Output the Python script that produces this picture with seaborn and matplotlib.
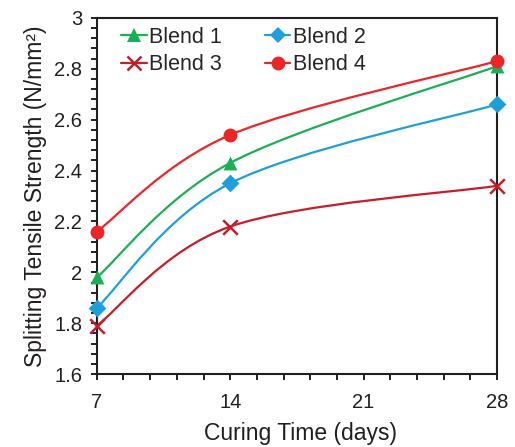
import numpy as np
import pandas as pd
import seaborn as sns
import matplotlib
matplotlib.use("Agg")
import matplotlib.pyplot as plt
from matplotlib.path import Path
from matplotlib.patches import PathPatch
from matplotlib.lines import Line2D
from matplotlib.ticker import MultipleLocator, FuncFormatter

# data
days = [7, 14, 28]
blend1 = [1.98, 2.43, 2.81]
blend2 = [1.86, 2.35, 2.66]
blend3 = [1.79, 2.18, 2.34]
blend4 = [2.16, 2.54, 2.83]

names = ["Blend 1", "Blend 2", "Blend 3", "Blend 4"]
series = [blend1, blend2, blend3, blend4]
colors = ["#1DAE55", "#1E9FD9", "#C51D2A", "#EC2528"]
markers = ["^", "D", "x", "o"]
msizes = [10, 9, 10.5, 10]

sns.set_style("ticks")
plt.rcParams['font.family'] = ['Liberation Sans', 'DejaVu Sans']
ink = "#231F20"


def smooth_path(xs, ys):
    # catmull-rom style bezier, like excel's "smoothed line"
    pts = np.column_stack([xs, ys]).astype(float)
    n = len(pts)
    verts = [pts[0]]
    codes = [Path.MOVETO]
    for i in range(n - 1):
        p0 = pts[max(i - 1, 0)]
        p1 = pts[i]
        p2 = pts[i + 1]
        p3 = pts[min(i + 2, n - 1)]
        verts += [p1 + (p2 - p0) / 6, p2 - (p3 - p1) / 6, p2]
        codes += [Path.CURVE4] * 3
    return Path(verts, codes)


fig = plt.figure(figsize=(5.15, 4.47), dpi=100)
ax = fig.add_axes([0.188, 0.163, 0.777, 0.797])

handles = []
for name, vals, c, m, ms in zip(names, series, colors, markers, msizes):
    ax.add_patch(PathPatch(smooth_path(days, vals), facecolor="none",
                           edgecolor=c, lw=1.6, zorder=2))
    df = pd.DataFrame({"day": days, "val": vals})
    if m == "x":
        sns.scatterplot(data=df, x="day", y="val", marker=m, s=ms ** 2,
                        color=c, linewidth=1.8, ax=ax, zorder=3, clip_on=False)
    else:
        sns.scatterplot(data=df, x="day", y="val", marker=m, s=ms ** 2,
                        color=c, edgecolor=c, linewidth=0, ax=ax, zorder=3,
                        clip_on=False)
    handles.append(Line2D([], [], color=c, lw=1.6, marker=m,
                          markersize=ms * (0.85 if m == "D" else 1),
                          markeredgewidth=1.8 if m == "x" else 0,
                          markerfacecolor=c, markeredgecolor=c))

ax.set_xlim(7, 28)
ax.set_ylim(1.6, 3.0)
ax.set_xticks([7, 14, 21, 28])
ax.xaxis.set_minor_locator(MultipleLocator(1.4))
ax.yaxis.set_major_locator(MultipleLocator(0.2))
ax.yaxis.set_minor_locator(MultipleLocator(0.04))
ax.yaxis.set_major_formatter(FuncFormatter(lambda v, p: "%g" % round(v, 2)))

for side in ["left", "right", "top", "bottom"]:
    ax.spines[side].set_visible(True)
    ax.spines[side].set_linewidth(1.5)
    ax.spines[side].set_color(ink)

ax.tick_params(axis="both", which="major", direction="out", length=4.5,
               width=1.4, color=ink, labelcolor=ink, labelsize=14.5)
ax.tick_params(axis="x", which="major", pad=9)
ax.tick_params(axis="y", which="major", pad=6)
ax.tick_params(axis="both", which="minor", direction="out", length=4,
               width=1.4, color=ink)
ax.tick_params(top=False, right=False, which="both")

ax.set_xlabel("Curing Time (days)", fontsize=16.5, color=ink)
ax.xaxis.set_label_coords(0.51, -0.135)
ax.set_ylabel("Splitting Tensile Strength (N/mm²)", fontsize=16.5, color=ink,
              labelpad=5)

order = [0, 2, 1, 3]
ax.legend([handles[i] for i in order], [names[i] for i in order], ncol=2,
          loc="upper left", bbox_to_anchor=(0.06, 0.975), frameon=False,
          fontsize=15.5, borderaxespad=0, borderpad=0, handlelength=1.2,
          handletextpad=0.1, columnspacing=2.0, labelspacing=0.3)

fig.savefig("out.png", dpi=100)
